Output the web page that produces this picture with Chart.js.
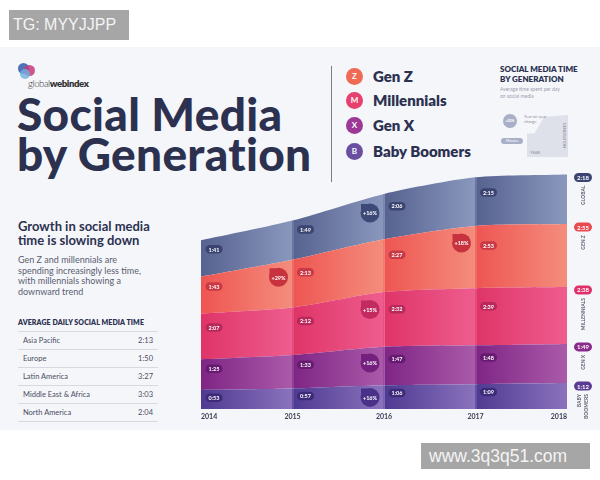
<!DOCTYPE html>
<html lang="en">
<head>
    <meta charset="UTF-8">
    <title>Social Media by Generation</title>
    <script src="https://cdn.jsdelivr.net/npm/chart.js@4.4.1/dist/chart.umd.min.js"></script>
    <style>
        body {
            margin: 0;
            width: 600px;
            height: 480px;
            position: relative;
            overflow: hidden;
            background: #fff;
            font-family: 'Lato', 'Open Sans', sans-serif;
            color: #2c3150;
        }
        .panel {
            position: absolute;
            left: 0; top: 47px;
            width: 600px; height: 383px;
            background: #f5f6fa;
        }
        .abs { position: absolute; white-space: nowrap; }
        .title {
            left: 17px; font-size: 46px; font-weight: 900;
            letter-spacing: 0.3px; line-height: 46px; color: #2c3150;
        }
        .logo-dot { position: absolute; border-radius: 50%; }
        .sub {
            left: 18px; top: 220px; font-size: 13px; font-weight: 700;
            line-height: 13.5px; color: #2c3150;
        }
        .body-text {
            left: 18px; top: 255px; font-size: 9px; line-height: 10.5px; color: #5a5d6e;
        }
        .tbl-head {
            left: 18px; top: 318px; font-size: 7px; font-weight: 800; color: #2c3150;
            letter-spacing: 0.1px;
        }
        .tbl { position: absolute; left: 18px; top: 331px; width: 140px; border-top: 1px solid #d8d9e0; }
        .tbl .row {
            height: 17px; border-bottom: 1px solid #d8d9e0; font-size: 7.5px; color: #4a4d60;
            display: flex; justify-content: space-between; align-items: center; padding: 0 5px 0 5px;
        }
        .divider { position: absolute; left: 331px; top: 66px; width: 1px; height: 116px; background: #7a7d8c; }
        .leg-dot {
            position: absolute; width: 17px; height: 17px; border-radius: 50%;
            color: #fff; font-size: 8px; font-weight: 700; text-align: center; line-height: 17px;
        }
        .leg-text { left: 373px; font-size: 15px; font-weight: 800; color: #2c3150; }
        .mini-title { left: 500px; top: 65px; font-size: 8px; font-weight: 800; line-height: 9.5px; color: #2c3150; }
        .mini-sub { left: 500px; top: 86px; font-size: 5px; line-height: 6.5px; color: #9a9db0; }
        .wm {
            position: absolute; background: #a6a6a6; color: #f4f4f4;
            font-family: 'Liberation Sans', Arial, sans-serif;
        }
        #chartWrap { position: absolute; left: 197px; top: 150px; width: 403px; height: 280px; }
    </style>
</head>
<body>
    <div class="panel"></div>

    <!-- logo -->
    <div class="logo-dot" style="left:18px;top:63px;width:11px;height:11px;background:#3f63b0;opacity:.9"></div>
    <div class="logo-dot" style="left:24px;top:65px;width:11px;height:11px;background:#c43a7a;opacity:.85"></div>
    <div class="logo-dot" style="left:20px;top:69px;width:10px;height:10px;background:#6fb0e0;opacity:.8"></div>
    <div class="abs" style="left:28px;top:78px;font-size:9.5px;letter-spacing:-0.4px;color:#333">
        <span style="font-weight:300">global</span><span style="font-weight:800">webindex</span>
    </div>

    <div class="abs title" style="top:91px">Social Media</div>
    <div class="abs title" style="top:131px">by Generation</div>

    <div class="abs sub">Growth in social media<br>time is slowing down</div>
    <div class="abs body-text">Gen Z and millennials are<br>spending increasingly less time,<br>with millennials showing a<br>downward trend</div>

    <div class="abs tbl-head">AVERAGE DAILY SOCIAL MEDIA TIME</div>
    <div class="tbl" id="regionTable"></div>

    <div class="divider"></div>

    <!-- legend -->
    <div class="leg-dot" style="left:346px;top:68px;background:#ee6a55">Z</div>
    <div class="abs leg-text" style="top:67px">Gen Z</div>
    <div class="leg-dot" style="left:346px;top:92px;background:#e6406e">M</div>
    <div class="abs leg-text" style="top:91px">Millennials</div>
    <div class="leg-dot" style="left:346px;top:117px;background:#9c3896">X</div>
    <div class="abs leg-text" style="top:116px">Gen X</div>
    <div class="leg-dot" style="left:346px;top:143px;background:#6a4ea2">B</div>
    <div class="abs leg-text" style="top:142px">Baby Boomers</div>

    <!-- mini key -->
    <div class="abs mini-title">SOCIAL MEDIA TIME<br>BY GENERATION</div>
    <div class="abs mini-sub">Average time spent per day<br>on social media</div>
    <div class="abs" style="left:527px;top:115px;width:41px;height:42px;background:#dfe1ea;
        clip-path:polygon(0 44%, 18% 44%, 42% 4%, 100% 0, 100% 100%, 0 100%)"></div>
    <div class="abs" style="left:530px;top:150px;font-size:4px;color:#8a8da0">YEAR</div>
    <div class="abs" style="left:552px;top:133px;font-size:4px;color:#8a8da0;transform:rotate(90deg)">GENERATION</div>
    <div class="leg-dot" style="left:503px;top:114px;width:14px;height:14px;line-height:14px;font-size:3.5px;background:#a9afc6">+00%</div>
    <div class="abs" style="left:524px;top:114px;font-size:4px;line-height:5px;color:#8a8da0">Year-on-year<br>change</div>
    <div class="abs" style="left:501px;top:138px;width:22px;height:6px;border-radius:3px;background:#a9afc6;
        font-size:3.5px;color:#fff;text-align:center;line-height:6px">Minutes</div>

    <div id="chartWrap"><canvas id="genChart"></canvas></div>

    <div class="wm" style="left:9px;top:10px;width:120px;height:30px;font-size:16px;line-height:30px;padding-left:4px;box-sizing:border-box">TG: MYYJJPP</div>
    <div class="wm" style="left:421px;top:443px;width:169px;height:26px;font-size:17.5px;line-height:26px;padding-left:8px;box-sizing:border-box">www.3q3q51.com</div>

    <script>
        // minutes per day spent on social media
        const years = ['2014', '2015', '2016', '2017', '2018'];
        const boomers = [53, 57, 66, 69, 72];
        const genX = [85, 93, 107, 108, 109];
        const millennials = [127, 132, 152, 159, 158];
        const genZ = [103, 133, 147, 173, 175];
        const globalAvg = [101, 109, 126, 135, 138];

        // year-on-year change bubbles, shown just before the given year
        const growthBoomers = [null, null, '+16%', null, null];
        const growthGenX = [null, null, '+16%', null, null];
        const growthMillennials = [null, null, '+15%', null, null];
        const growthGenZ = [null, '+29%', null, '+18%', null];
        const growthGlobal = [null, null, '+16%', null, null];

        const sideLabels = [['BABY', 'BOOMERS'], ['GEN X'], ['MILLENNIALS'], ['GEN Z'], ['GLOBAL']];

        const regions = ['Asia Pacific', 'Europe', 'Latin America', 'Middle East & Africa', 'North America'];
        const regionTimes = ['2:13', '1:50', '3:27', '3:03', '2:04'];

        // dark/light per band, pill colour, bubble colour, side pill colour
        const bandStyles = [
            { dark: '#4f3a92', light: '#8a72bc', pill: '#3d2a78', bubble: '#4a3088', side: '#5a3b95' },
            { dark: '#7f2585', light: '#aa5aa9', pill: '#661a70', bubble: '#74207e', side: '#8a2a8a' },
            { dark: '#df3468', light: '#ee5d8e', pill: '#b8285a', bubble: '#c22a60', side: '#e0306a' },
            { dark: '#ee5552', light: '#f48d7c', pill: '#c93845', bubble: '#c8323f', side: '#e84a50' },
            { dark: '#56628f', light: '#8a97bd', pill: '#3b4470', bubble: '#3d4a78', side: '#3b4470' }
        ];
        const growthSets = [growthBoomers, growthGenX, growthMillennials, growthGenZ, growthGlobal];

        function fmt(min) {
            const h = Math.floor(min / 60);
            const m = min % 60;
            return h + ':' + String(m).padStart(2, '0');
        }

        const table = document.getElementById('regionTable');
        regions.forEach((r, i) => {
            const row = document.createElement('div');
            row.className = 'row';
            row.innerHTML = '<span>' + r + '</span><span>' + regionTimes[i] + '</span>';
            table.appendChild(row);
        });

        const gradCache = {};
        function bandGradient(ctx, idx) {
            const chart = ctx.chart;
            const area = chart.chartArea;
            if (!area) return bandStyles[idx].dark;
            const key = idx + ':' + area.left + ':' + area.right;
            if (gradCache[key]) return gradCache[key];
            const g = chart.ctx.createLinearGradient(area.left, 0, area.right, 0);
            const n = years.length - 1;
            for (let s = 0; s < n; s++) {
                g.addColorStop(s / n, bandStyles[idx].dark);
                g.addColorStop((s + 1) / n - 0.002, bandStyles[idx].light);
            }
            gradCache[key] = g;
            return g;
        }

        function roundRect(c, x, y, w, h, r) {
            c.beginPath();
            c.moveTo(x + r, y);
            c.arcTo(x + w, y, x + w, y + h, r);
            c.arcTo(x + w, y + h, x, y + h, r);
            c.arcTo(x, y + h, x, y, r);
            c.arcTo(x, y, x + w, y, r);
            c.closePath();
        }

        function pill(c, cx, cy, text, color, fontSize) {
            c.font = 'bold ' + fontSize + 'px Lato, sans-serif';
            const w = c.measureText(text).width + 6;
            const h = fontSize + 3;
            c.fillStyle = color;
            roundRect(c, cx - w / 2, cy - h / 2, w, h, h / 2);
            c.fill();
            c.fillStyle = '#fff';
            c.textAlign = 'center';
            c.textBaseline = 'middle';
            c.fillText(text, cx, cy + 0.5);
        }

        // band edges in pixels, interpolated between data points
        function bandEdges(chart, ds, x) {
            const bottom = chart.chartArea.bottom;
            const topPts = chart.getDatasetMeta(ds).data;
            const lowPts = ds > 0 ? chart.getDatasetMeta(ds - 1).data : null;
            const lerp = (pts) => {
                if (!pts) return bottom;
                for (let j = 0; j < pts.length - 1; j++) {
                    if (x >= pts[j].x && x <= pts[j + 1].x) {
                        const t = (x - pts[j].x) / (pts[j + 1].x - pts[j].x);
                        return pts[j].y + t * (pts[j + 1].y - pts[j].y);
                    }
                }
                return pts[pts.length - 1].y;
            };
            return { top: lerp(topPts), bottom: lerp(lowPts) };
        }

        const labelPlugin = {
            id: 'bandLabels',
            afterDatasetsDraw(chart) {
                const c = chart.ctx;
                const xs = chart.scales.x;
                const series = chart.data.datasets;
                c.save();
                // faint divider lines at inner years
                for (let j = 1; j < years.length - 1; j++) {
                    const x = xs.getPixelForValue(j);
                    const e = bandEdges(chart, series.length - 1, x);
                    c.strokeStyle = 'rgba(255,255,255,0.25)';
                    c.lineWidth = 1;
                    c.beginPath();
                    c.moveTo(x + 0.5, e.top);
                    c.lineTo(x + 0.5, chart.chartArea.bottom);
                    c.stroke();
                }
                series.forEach((ds, i) => {
                    const vals = ds.data;
                    // value pills for each year except the last
                    for (let j = 0; j < vals.length - 1; j++) {
                        const x = xs.getPixelForValue(j) + 13;
                        const e = bandEdges(chart, i, x);
                        const h = e.bottom - e.top;
                        let y = e.top + h * 0.32;
                        y = Math.max(e.top + 8, Math.min(e.bottom - 9, y));
                        pill(c, x, y, fmt(vals[j]), bandStyles[i].pill, 5.5);
                    }
                    // growth bubbles
                    growthSets[i].forEach((g, j) => {
                        if (!g) return;
                        const x = xs.getPixelForValue(j) - 14;
                        const e = bandEdges(chart, i, x);
                        const y = Math.min(e.top + 15, (e.top + e.bottom) / 2);
                        c.fillStyle = bandStyles[i].bubble;
                        c.beginPath();
                        c.arc(x, y, 9.5, 0, Math.PI * 2);
                        c.fill();
                        c.beginPath();
                        c.moveTo(x - 9, y - 3);
                        c.lineTo(x - 9, y - 9);
                        c.lineTo(x - 3, y - 9);
                        c.fill();
                        c.fillStyle = '#fff';
                        c.font = 'bold 5.5px Lato, sans-serif';
                        c.textAlign = 'center';
                        c.textBaseline = 'middle';
                        c.fillText(g, x, y + 0.5);
                    });
                    // side pill and rotated name at the last year
                    const last = vals.length - 1;
                    const yTop = chart.getDatasetMeta(i).data[last].y;
                    const sx = chart.chartArea.right + 16;
                    pill(c, sx, yTop + 3, fmt(vals[last]), bandStyles[i].side, 6);
                    c.fillStyle = '#5a5d6e';
                    c.font = 'bold 5px Lato, sans-serif';
                    c.textAlign = 'right';
                    c.textBaseline = 'middle';
                    const lines = sideLabels[i];
                    lines.forEach((t, k) => {
                        c.save();
                        c.translate(sx + (k - (lines.length - 1) / 2) * 6.5, yTop + 11);
                        c.rotate(-Math.PI / 2);
                        c.fillText(t, 0, 0);
                        c.restore();
                    });
                });
                c.restore();
            }
        };

        const seriesData = [boomers, genX, millennials, genZ, globalAvg];
        const seriesNames = ['Baby Boomers', 'Gen X', 'Millennials', 'Gen Z', 'Global'];

        new Chart(document.getElementById('genChart'), {
            type: 'line',
            data: {
                labels: years,
                datasets: seriesData.map((d, i) => ({
                    label: seriesNames[i],
                    data: d,
                    fill: i === 0 ? 'origin' : '-1',
                    backgroundColor: (ctx) => bandGradient(ctx, i),
                    borderWidth: 0,
                    pointRadius: 0,
                    tension: 0.25
                }))
            },
            options: {
                responsive: true,
                maintainAspectRatio: false,
                animation: false,
                layout: { padding: { left: 0, right: 33, top: 0, bottom: 0 } },
                plugins: { legend: { display: false }, tooltip: { enabled: false } },
                scales: {
                    x: {
                        offset: false,
                        grid: { display: false, drawTicks: false },
                        border: { display: false },
                        ticks: {
                            align: 'inner',
                            padding: 4,
                            color: '#3a3d50',
                            font: { family: 'Lato', size: 7, weight: 'bold' }
                        },
                        afterFit: (scale) => { scale.height = 21; }
                    },
                    y: {
                        display: false,
                        stacked: true,
                        min: 0,
                        max: 720
                    }
                }
            },
            plugins: [labelPlugin]
        });
    </script>
</body>
</html>
